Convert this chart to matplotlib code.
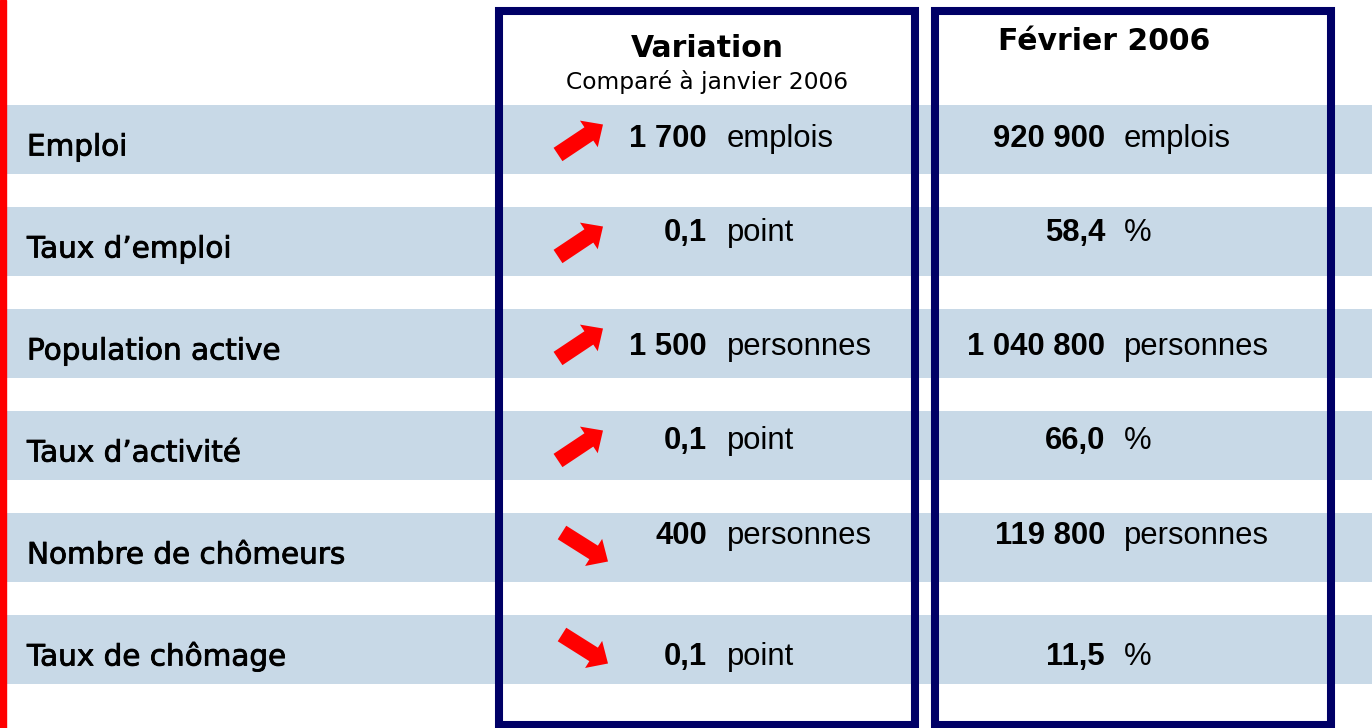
import matplotlib
matplotlib.use("Agg")
import matplotlib.pyplot as plt
from matplotlib.patches import Rectangle, FancyArrow
import matplotlib.patheffects as pe
import numpy as np

# table content
labels = ["Emploi", "Taux d’emploi", "Population active",
          "Taux d’activité", "Nombre de chômeurs", "Taux de chômage"]
var_values = ["1 700", "0,1", "1 500", "0,1", "400", "0,1"]
var_units = ["emplois", "point", "personnes", "point", "personnes", "point"]
var_direction = [1, 1, 1, 1, -1, -1]   # 1 = hausse, -1 = baisse
feb_values = ["920 900", "58,4", "1 040 800", "66,0", "119 800", "11,5"]
feb_units = ["emplois", "%", "personnes", "%", "personnes", "%"]

col_titles = ["Variation", "Février 2006"]
col_subtitle = "Comparé à janvier 2006"

# layout (pixels, y going down)
W, H = 1372, 728
band_color = "#c8d9e7"
navy = "#000066"
row_top, row_step, band_h = 105, 102, 69
label_dy = 16
value_dy = [7.5, -0.5, 11.5, 3.5, -3.5, 15.5]   # the original is not quite aligned

# slightly heavier than DejaVu book, like the original's Tahoma
thick = [pe.withStroke(linewidth=0.6, foreground="black")]

label_font = dict(family="DejaVu Sans", fontsize=21.2)
num_font = dict(family="Liberation Sans", fontsize=22.3, fontweight="bold")
unit_font = dict(family="Liberation Sans", fontsize=22.3)

fig = plt.figure(figsize=(W / 100, H / 100), dpi=100)
ax = fig.add_axes([0, 0, 1, 1])
ax.set_xlim(0, W)
ax.set_ylim(H, 0)
ax.axis("off")

n = len(labels)
centers = row_top + band_h / 2 + row_step * np.arange(n)

# light blue bands
ax.barh(centers, W - 6, left=6, height=band_h, color=band_color, zorder=1)

# red rule on the left
ax.add_patch(Rectangle((0, 0), 6, H, color="red", zorder=3))

for i in range(n):
    c = centers[i]
    ax.text(27, c + label_dy, labels[i], ha="left", va="baseline", zorder=4,
            path_effects=thick, **label_font)

    yb = c + value_dy[i]
    ax.text(707, yb, var_values[i], ha="right", va="baseline", zorder=4, **num_font)
    ax.text(727, yb, var_units[i], ha="left", va="baseline", zorder=4, **unit_font)
    ax.text(1105, yb, feb_values[i], ha="right", va="baseline", zorder=4, **num_font)
    ax.text(1124, yb, feb_units[i], ha="left", va="baseline", zorder=4, **unit_font)

    # red arrow: up-right for a rise, down-right for a fall
    d = var_direction[i]
    if d > 0:
        x0, y0, dx, dy = 558, c + 15, 45, -30
    else:
        x0, y0, dx, dy = 562, c - 15, 46, 29
    ax.add_patch(FancyArrow(x0, y0, dx, dy, width=16, head_width=32, head_length=17,
                            length_includes_head=True, color="red", lw=0, zorder=4))

# column frames
for x0, x1 in [(499, 914.5), (934.5, 1331)]:
    ax.add_patch(Rectangle((x0, 11), x1 - x0, 714, fill=False, ec=navy, lw=5.8, zorder=5))

# headers
ax.text(707.5, 57, col_titles[0], ha="center", va="baseline", family="DejaVu Sans",
        fontsize=21.5, fontweight="bold", zorder=6)
ax.text(707.5, 89, col_subtitle, ha="center", va="baseline", family="DejaVu Sans",
        fontsize=16.8, zorder=6)
ax.text(1104, 50, col_titles[1], ha="center", va="baseline", family="DejaVu Sans",
        fontsize=21.5, fontweight="bold", zorder=6)

fig.savefig("out.png", dpi=100)
